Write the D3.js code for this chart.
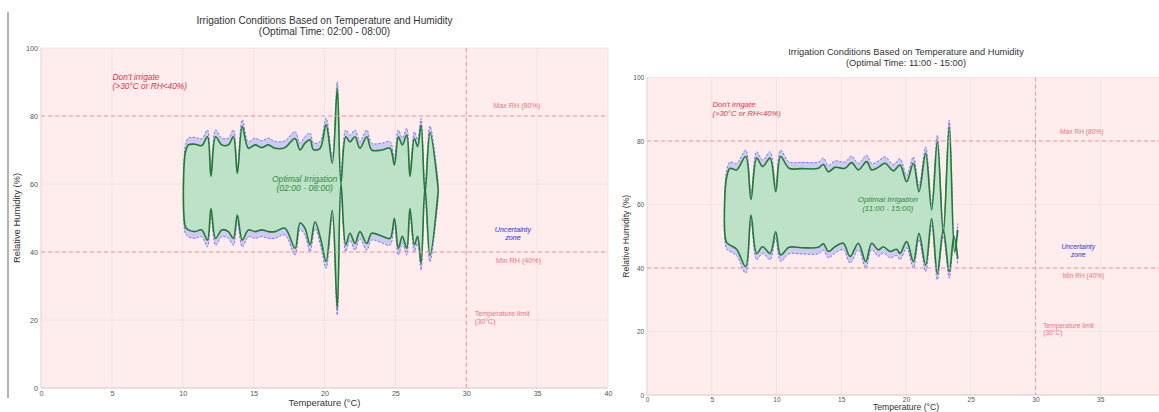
<!DOCTYPE html>
<html>
<head>
<meta charset="utf-8">
<script src="https://cdn.jsdelivr.net/npm/d3@7"></script>
<style>
  body { margin: 0; background: #fff; }
  svg { display: block; font-family: "Liberation Sans", Arial, sans-serif; }
</style>
</head>
<body>
<div id="chart"></div>
<script>
// Measurement
var w = 1159, h = 412;

// Axis ticks
var tempTicks = [0, 5, 10, 15, 20, 25, 30, 35, 40];
var rhTicks = [0, 20, 40, 60, 80, 100];

// Thresholds
var tempLimit = 30, rhMax = 80, rhMin = 40;
var uncertainty = 2;   // RH points around the optimal band

// Optimal band, night window 02:00 - 08:00  [temperature, RH]
var nightUpper = [[10.04,57.7],[10.1,66],[10.2,69.6],[10.39,71.5],[10.86,71.7],[11.34,71.3],[11.74,73.9],[11.99,62.2],
  [12.32,73.9],[12.75,71.5],[13.22,71.5],[13.57,73.9],[13.85,63.1],[14.2,76.9],[14.63,70.5],[15.1,71.5],[15.57,70.7],
  [16.04,71.5],[16.51,70.5],[17.21,70.7],[17.92,73.4],[18.27,70.0],[18.62,72.0],[18.98,73.0],[19.22,70.1],[19.69,70.5],
  [20.11,77.4],[20.55,66.1],[20.9,88.1],[21.16,60.2],[21.5,73.9],[21.8,72.4],[22.15,73.9],[22.5,70.5],[22.98,73.9],
  [23.33,70.0],[24.03,70.0],[24.62,70.5],[24.93,65.6],[25.21,73.9],[25.49,71.5],[25.8,74.4],[26.03,62.2],[26.34,73.4],
  [26.57,71.0],[26.81,77.3],[27.09,57.3],[27.44,75.1],[28.03,58.2]];
var nightLower = [[10.04,57.7],[10.1,49.5],[10.2,47.3],[10.39,46.5],[10.86,46.0],[11.34,46.5],[11.74,43.5],[11.99,52.8],
  [12.32,44.0],[12.75,46.5],[13.22,46.0],[13.57,44.0],[13.85,50.9],[14.2,43.5],[14.63,46.5],[15.1,46.0],[15.57,46.5],
  [16.04,46.0],[16.51,46.0],[17.21,47.0],[17.92,41.1],[18.27,48.5],[18.62,47.0],[18.98,42.1],[19.33,48.9],[19.75,43.5],
  [20.11,37.2],[20.55,52.3],[20.9,23.4],[21.16,60.2],[21.5,42.1],[21.8,45.5],[22.15,42.5],[22.5,46.0],[22.98,42.5],
  [23.33,45.5],[24.03,44.7],[24.62,44.0],[24.93,49.9],[25.21,41.1],[25.49,44.6],[25.8,41.1],[26.03,52.8],[26.34,42.1],
  [26.57,44.6],[26.81,36.7],[27.09,59.2],[27.44,39.1],[28.03,58.2]];

// Optimal band, midday window 11:00 - 15:00  [temperature, RH]
var noonUpper = [[5.97,55.6],[6.03,64],[6.15,68.6],[6.41,71.4],[6.92,70.9],[7.62,75.1],[8.03,61.6],[8.47,74.6],[8.93,72.0],
  [9.5,74.6],[9.94,64.0],[10.32,75.1],[10.97,71.4],[11.94,71.3],[13.23,71.4],[13.62,72.6],[14.0,70.3],[14.52,71.7],
  [15.29,71.4],[15.8,73.2],[16.32,70.9],[16.96,73.5],[17.35,70.9],[17.86,71.7],[18.38,73.0],[19.02,70.6],[19.54,72.4],
  [20.05,67.2],[20.57,73.0],[21.0,64.0],[21.52,76.1],[21.98,58.3],[22.42,79.8],[22.88,50.9],[23.34,84.5],[23.75,45.0],
  [24.0,52.0]];
var noonLower = [[5.97,55.6],[6.03,50],[6.15,48.0],[6.41,47.2],[6.92,45.9],[7.62,40.4],[8.03,56.7],[8.47,44.6],[8.93,46.7],
  [9.5,44.6],[9.94,51.4],[10.32,44.1],[10.97,46.5],[11.94,46.4],[13.23,46.5],[13.62,47.6],[14.0,45.2],[14.52,46.7],
  [15.16,47.8],[15.68,43.6],[16.32,47.8],[16.89,42.0],[17.35,47.8],[17.86,45.7],[18.25,46.7],[18.77,45.2],[19.28,45.9],
  [19.54,44.6],[20.05,48.3],[20.57,42.0],[21.0,50.9],[21.52,40.9],[21.98,55.6],[22.42,38.3],[22.88,52.0],[23.34,38.8],
  [23.7,50.0],[24.0,43.0]];

var panels = [
  { id: "night", window: "02:00 - 08:00", upper: nightUpper, lower: nightLower,
    x0: 41, x1: 608, yTop: 48, yBot: 388, titleY: 21, fs: 1, yLabelX: 18, xLabelY: 404 },
  { id: "noon", window: "11:00 - 15:00", upper: noonUpper, lower: noonLower,
    x0: 647, x1: 1165, yTop: 77.5, yBot: 395, titleY: 53, fs: 0.92, yLabelX: 627, xLabelY: 408 }
];

// SVG Container
var svg = d3.select("#chart")
  .append("svg")
  .attr("width", w)
  .attr("height", h);

// border line of the left figure
svg.append("line")
  .attr("x1", 8).attr("x2", 8)
  .attr("y1", 12).attr("y2", 398)
  .attr("stroke", "#9a9a9a")
  .attr("stroke-width", 1.5);

panels.forEach(drawPanel);

function drawPanel(p) {
  var xScale = d3.scaleLinear().domain([0, 40]).range([p.x0, p.x1]);
  var yScale = d3.scaleLinear().domain([0, 100]).range([p.yBot, p.yTop]);
  var g = svg.append("g");
  var fs = p.fs;

  g.append("clipPath").attr("id", "clip-" + p.id)
    .append("rect")
    .attr("x", p.x0).attr("y", p.yTop)
    .attr("width", p.x1 - p.x0).attr("height", p.yBot - p.yTop);

  // don't irrigate background
  g.append("rect")
    .attr("x", p.x0).attr("y", p.yTop)
    .attr("width", p.x1 - p.x0).attr("height", p.yBot - p.yTop)
    .attr("fill", "#ffeded");

  // grid
  g.selectAll(".vgrid").data(tempTicks).enter().append("line")
    .attr("x1", function(d) { return xScale(d); }).attr("x2", function(d) { return xScale(d); })
    .attr("y1", p.yTop).attr("y2", p.yBot)
    .attr("stroke", "#f1e0e0").attr("stroke-width", 0.8);
  g.selectAll(".hgrid").data(rhTicks).enter().append("line")
    .attr("x1", p.x0).attr("x2", p.x1)
    .attr("y1", function(d) { return yScale(d); }).attr("y2", function(d) { return yScale(d); })
    .attr("stroke", "#f1e0e0").attr("stroke-width", 0.8);

  var plot = g.append("g").attr("clip-path", "url(#clip-" + p.id + ")");

  var line = d3.line()
    .x(function(d) { return xScale(d[0]); })
    .y(function(d) { return yScale(d[1]); })
    .curve(d3.curveCatmullRom.alpha(0.5));

  function band(a, b) {
    return line(a) + "L" + line(b.slice().reverse()).slice(1) + "Z";
  }
  var upperOut = p.upper.map(function(d) { return [d[0], d[1] + uncertainty]; });
  var lowerOut = p.lower.map(function(d) { return [d[0], d[1] - uncertainty]; });

  // uncertainty zone
  plot.append("path").attr("d", band(upperOut, p.upper)).attr("fill", "#cfcaf3");
  plot.append("path").attr("d", band(p.lower, lowerOut)).attr("fill", "#cfcaf3");
  [upperOut, lowerOut].forEach(function(s) {
    plot.append("path").attr("d", line(s))
      .attr("fill", "none").attr("stroke", "#6a6af0")
      .attr("stroke-width", 0.9).attr("stroke-dasharray", "2.5,1.5");
  });

  // optimal band
  plot.append("path").attr("d", band(p.upper, p.lower)).attr("fill", "#bde2c7");
  [p.upper, p.lower].forEach(function(s) {
    plot.append("path").attr("d", line(s))
      .attr("fill", "none").attr("stroke", "#1f7a34")
      .attr("stroke-width", 1.6);
  });

  // threshold lines
  [rhMax, rhMin].forEach(function(v) {
    plot.append("line")
      .attr("x1", p.x0).attr("x2", p.x1)
      .attr("y1", yScale(v)).attr("y2", yScale(v))
      .attr("stroke", "#f2939b").attr("stroke-width", 1)
      .attr("stroke-dasharray", "4,3");
  });
  plot.append("line")
    .attr("x1", xScale(tempLimit)).attr("x2", xScale(tempLimit))
    .attr("y1", p.yTop).attr("y2", p.yBot)
    .attr("stroke", "#f2939b").attr("stroke-width", 1)
    .attr("stroke-dasharray", "4,3");

  // annotations
  function note(lines, tx, ry, color, size, italic, anchor) {
    var t = plot.append("text")
      .attr("fill", color)
      .attr("font-size", size * fs)
      .attr("font-style", italic ? "italic" : "normal")
      .attr("text-anchor", anchor);
    lines.forEach(function(s, i) {
      t.append("tspan")
        .attr("x", xScale(tx))
        .attr("y", yScale(ry) + i * size * fs * 1.15)
        .attr("dominant-baseline", "middle")
        .text(s);
    });
  }
  note(["Don't irrigate", "(>30°C or RH<40%)"], 5.05, 91.3, "#e8303e", 8.3, true, "start");
  note(["Max RH (80%)"], 31.9, 82.9, "#f0707c", 7.2, false, "start");
  note(["Min RH (40%)"], 32.1, 37.4, "#f0707c", 7.2, false, "start");
  note(["Temperature limit", "(30°C)"], 30.6, 21.7, "#f0707c", 7.2, false, "start");
  note(["Uncertainty", "zone"], 33.3, 46.5, "#2c2ce0", 7.2, true, "middle");
  note(["Optimal Irrigation", "(" + p.window + ")"], 18.6, 61.4, "#2f8c45", 8.6, true, "middle");

  // spines
  g.append("line").attr("x1", p.x0).attr("x2", p.x1).attr("y1", p.yBot).attr("y2", p.yBot)
    .attr("stroke", "#cccccc").attr("stroke-width", 0.8);
  g.append("line").attr("x1", p.x0).attr("x2", p.x0).attr("y1", p.yTop).attr("y2", p.yBot)
    .attr("stroke", "#e4d4d4").attr("stroke-width", 0.8);

  // Axis (labels that would fall past the page edge are left out)
  var shownTemps = tempTicks.filter(function(d) { return xScale(d) + 5 < w; });
  var xAxis = d3.axisBottom(xScale).tickValues(shownTemps).tickSize(0).tickPadding(3 * fs);
  var yAxis = d3.axisLeft(yScale).tickValues(rhTicks).tickSize(0).tickPadding(3 * fs);

  g.append("g").attr("transform", "translate(0," + p.yBot + ")").call(xAxis)
    .call(function(s) { s.select(".domain").remove(); })
    .selectAll("text").attr("font-size", 7.2 * fs).attr("fill", "#555")
    .attr("font-family", "Liberation Sans, Arial, sans-serif");
  g.append("g").attr("transform", "translate(" + p.x0 + ",0)").call(yAxis)
    .call(function(s) { s.select(".domain").remove(); })
    .selectAll("text").attr("font-size", 7.2 * fs).attr("fill", "#555")
    .attr("font-family", "Liberation Sans, Arial, sans-serif");

  // titles
  var cx = (p.x0 + p.x1) / 2;
  var title = g.append("text").attr("text-anchor", "middle")
    .attr("font-size", 10.1 * fs).attr("fill", "#333");
  title.append("tspan").attr("x", cx).attr("y", p.titleY).attr("dominant-baseline", "middle")
    .text("Irrigation Conditions Based on Temperature and Humidity");
  title.append("tspan").attr("x", cx).attr("y", p.titleY + 11.6 * fs).attr("dominant-baseline", "middle")
    .text("(Optimal Time: " + p.window + ")");

  g.append("text")
    .attr("x", cx).attr("y", p.xLabelY)
    .attr("text-anchor", "middle").attr("dominant-baseline", "middle")
    .attr("font-size", 9.4 * fs).attr("fill", "#333")
    .text("Temperature (°C)");
  g.append("text")
    .attr("transform", "translate(" + p.yLabelX + "," + ((p.yTop + p.yBot) / 2) + ") rotate(-90)")
    .attr("text-anchor", "middle").attr("dominant-baseline", "middle")
    .attr("font-size", 9.4 * fs).attr("fill", "#333")
    .text("Relative Humidity (%)");
}
</script>
</body>
</html>
